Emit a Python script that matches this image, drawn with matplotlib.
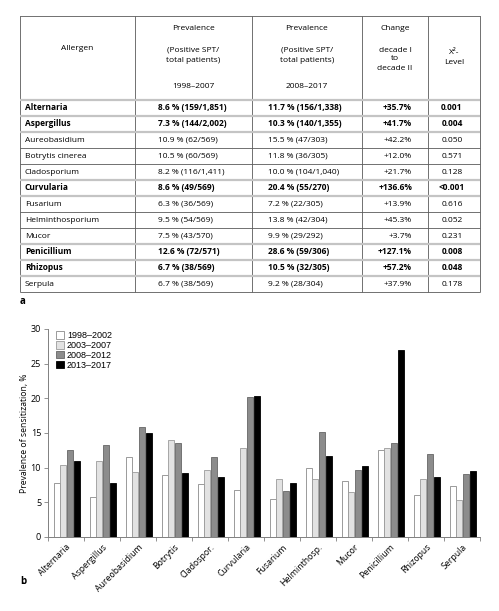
import matplotlib
matplotlib.use('Agg')
import matplotlib.pyplot as plt
import numpy as np

# ---------------- table data (panel a) ----------------
allergens = ["Alternaria", "Aspergillus", "Aureobasidium", "Botrytis cinerea", "Cladosporium",
             "Curvularia", "Fusarium", "Helminthosporium", "Mucor", "Penicillium", "Rhizopus", "Serpula"]
prev_1998_2007 = ["8.6 % (159/1,851)", "7.3 % (144/2,002)", "10.9 % (62/569)", "10.5 % (60/569)",
                  "8.2 % (116/1,411)", "8.6 % (49/569)", "6.3 % (36/569)", "9.5 % (54/569)",
                  "7.5 % (43/570)", "12.6 % (72/571)", "6.7 % (38/569)", "6.7 % (38/569)"]
prev_2008_2017 = ["11.7 % (156/1,338)", "10.3 % (140/1,355)", "15.5 % (47/303)", "11.8 % (36/305)",
                  "10.0 % (104/1,040)", "20.4 % (55/270)", "7.2 % (22/305)", "13.8 % (42/304)",
                  "9.9 % (29/292)", "28.6 % (59/306)", "10.5 % (32/305)", "9.2 % (28/304)"]
change = ["+35.7%", "+41.7%", "+42.2%", "+12.0%", "+21.7%", "+136.6%", "+13.9%", "+45.3%",
          "+3.7%", "+127.1%", "+57.2%", "+37.9%"]
chi2_level = ["0.001", "0.004", "0.050", "0.571", "0.128", "<0.001", "0.616", "0.052",
              "0.231", "0.008", "0.048", "0.178"]
bold_rows = ["Alternaria", "Aspergillus", "Curvularia", "Penicillium", "Rhizopus"]

# ---------------- bar data (panel b) ----------------
bar_categories = ["Alternaria", "Aspergillus", "Aureobasidium", "Botrytis", "Cladospor.", "Curvularia",
                  "Fusarium", "Helminthosp.", "Mucor", "Penicillium", "Rhizopus", "Serpula"]
periods = ["1998–2002", "2003–2007", "2008–2012", "2013–2017"]
p1998_2002 = [7.8, 5.7, 11.6, 9.0, 7.6, 6.8, 5.5, 10.0, 8.1, 12.5, 6.0, 7.4]
p2003_2007 = [10.4, 10.9, 9.4, 14.0, 9.7, 12.9, 8.3, 8.3, 6.5, 12.9, 8.3, 5.4]
p2008_2012 = [12.5, 13.2, 15.8, 13.5, 11.6, 20.2, 6.7, 15.2, 9.7, 13.5, 11.9, 9.1]
p2013_2017 = [10.9, 7.8, 15.0, 9.3, 8.7, 20.4, 7.8, 11.7, 10.3, 26.9, 8.6, 9.5]
yticks = [0, 5, 10, 15, 20, 25, 30]

W, H = 499, 611
fig = plt.figure(figsize=(W / 100, H / 100), dpi=100)
FONT = "Open Sans"

# ---------------- table ----------------
axt = fig.add_axes([0, 0, 1, 1])
axt.set_xlim(0, W)
axt.set_ylim(H, 0)
axt.axis('off')

cols = [20, 135, 252, 362, 428, 480]
top, head_bot, row_h = 16, 100, 16
n = len(allergens)
bottom = head_bot + n * row_h
dark = '#5a5a5a'
light = '#c4c4c4'

for x in cols:
    axt.plot([x, x], [top, bottom], color=dark, lw=0.6, solid_capstyle='butt')
axt.plot([cols[0], cols[-1]], [top, top], color=dark, lw=0.6)

is_bold = [a in bold_rows for a in allergens]
for i in range(n + 1):
    y = head_bot + i * row_h
    above = is_bold[i - 1] if i - 1 >= 0 else False
    below = is_bold[i] if i < n else False
    if i == 0 or ((above or below) and i < n):
        axt.plot([cols[0], cols[-1]], [y, y], color=light, lw=1.6, solid_capstyle='butt')
    else:
        axt.plot([cols[0], cols[-1]], [y, y], color=dark, lw=0.6, solid_capstyle='butt')

fs_t = 6.0
tkw = dict(fontsize=fs_t, family=FONT, va='center')
axt.text((cols[0] + cols[1]) / 2, 49, "Allergen", ha='center', **tkw)
for c, yr in [(0, "1998–2007"), (1, "2008–2017")]:
    xc = (cols[1 + c] + cols[2 + c]) / 2
    axt.text(xc, 29, "Prevalence", ha='center', **tkw)
    axt.text(xc, 50, "(Positive SPT/", ha='center', **tkw)
    axt.text(xc, 60, "total patients)", ha='center', **tkw)
    axt.text(xc, 87, yr, ha='center', **tkw)
xc = (cols[3] + cols[4]) / 2
axt.text(xc, 29, "Change", ha='center', **tkw)
axt.text(xc, 50, "decade I", ha='center', **tkw)
axt.text(xc, 59, "to", ha='center', **tkw)
axt.text(xc, 68, "decade II", ha='center', **tkw)
xc = (cols[4] + cols[5]) / 2
axt.text(xc, 53, "X²-", ha='center', **tkw)
axt.text(xc, 63, "Level", ha='center', **tkw)

for i in range(n):
    y = head_bot + (i + 0.5) * row_h
    fw = 'bold' if is_bold[i] else 'normal'
    axt.text(cols[0] + 5, y, allergens[i], ha='left', fontweight=fw, **tkw)
    axt.text(158, y, prev_1998_2007[i], ha='left', fontweight=fw, **tkw)
    axt.text(268, y, prev_2008_2017[i], ha='left', fontweight=fw, **tkw)
    axt.text(412, y, change[i], ha='right', fontweight=fw, **tkw)
    axt.text(452, y, chi2_level[i], ha='center', fontweight=fw, **tkw)

axt.text(20, 302, "a", fontsize=7, fontweight='bold', family=FONT, va='center', ha='left')
axt.text(20, 582, "b", fontsize=7, fontweight='bold', family=FONT, va='center', ha='left')

# ---------------- bar chart ----------------
ax = fig.add_axes([48 / W, 1 - 537 / H, (480 - 48) / W, (537 - 329) / H])
x = np.arange(len(bar_categories))
series = [p1998_2002, p2003_2007, p2008_2012, p2013_2017]
faces = ['#ffffff', '#e2e2e2', '#8c8c8c', '#000000']
edges = ['#8a8a8a', '#9a9a9a', '#666666', '#000000']
step, bw = 0.185, 0.165
offsets = (np.arange(4) - 1.5) * step + 0.02
for s, vals, fc, ec, lab in zip(range(4), series, faces, edges, periods):
    ax.bar(x + offsets[s], vals, width=bw, color=fc, edgecolor=ec, linewidth=0.6, label=lab)

ax.set_xlim(-0.5, len(bar_categories) - 0.5)
ax.set_ylim(0, 30)
ax.set_yticks(yticks)
ax.set_yticklabels([str(t) for t in yticks], fontsize=6.5, family=FONT)
ax.set_xticks(x)
ax.set_xticklabels(bar_categories, rotation=45, ha='right', rotation_mode='anchor',
                   fontsize=6.3, family=FONT)
ax.tick_params(axis='x', length=0, pad=4)
ax.set_xticks(np.arange(len(bar_categories) + 1) - 0.5, minor=True)
ax.tick_params(axis='x', which='minor', length=3, color='#808080', width=0.6)
ax.tick_params(axis='y', length=3, color='#808080', width=0.6, pad=2)
for sp in ['top', 'right']:
    ax.spines[sp].set_visible(False)
for sp in ['left', 'bottom']:
    ax.spines[sp].set_color('#808080')
    ax.spines[sp].set_linewidth(0.7)
ax.set_ylabel("Prevalence of sensitization, %", fontsize=6.2, family=FONT, labelpad=1)

leg = ax.legend(loc='upper left', bbox_to_anchor=(56 / W, 1 - 331 / H), bbox_transform=fig.transFigure,
                frameon=False, borderpad=0, borderaxespad=0, handlelength=0.9, handleheight=0.9,
                handletextpad=0.3, labelspacing=0.1, prop={'family': 'Liberation Sans', 'size': 6.5})

fig.savefig("out.png", dpi=100)
